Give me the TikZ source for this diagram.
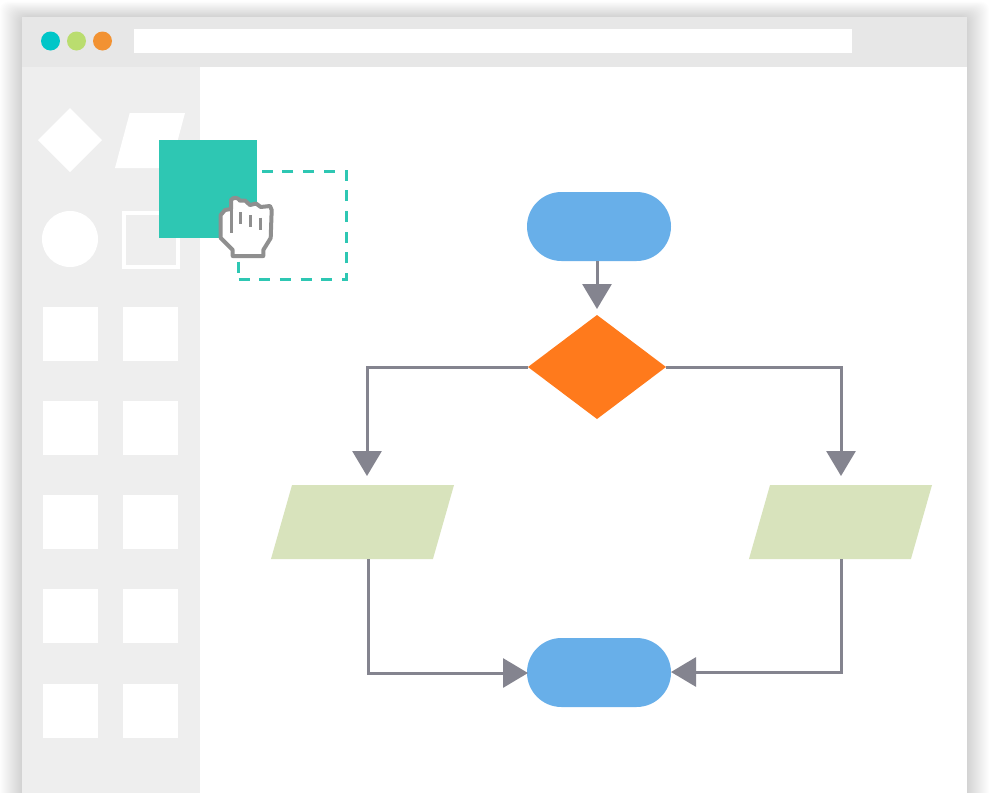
\documentclass[tikz,border=0pt]{standalone}
\usepackage{tikz}
\usetikzlibrary{arrows.meta,shapes.geometric}
\pgfdeclarelayer{bg}
\pgfsetlayers{bg,main}
\definecolor{barcol}{HTML}{E7E7E7}
\definecolor{sidecol}{HTML}{EEEEEE}
\definecolor{tealcol}{HTML}{2EC7B3}
\definecolor{bluecol}{HTML}{68AFE9}
\definecolor{orangecol}{HTML}{FF7A1C}
\definecolor{greencol}{HTML}{D8E3BC}
\definecolor{linecol}{HTML}{84848F}
\definecolor{handcol}{HTML}{8F8F8F}
\definecolor{dotcyan}{HTML}{00C6C8}
\definecolor{dotgreen}{HTML}{BADD6F}
\definecolor{dotorange}{HTML}{F29232}
\tikzset{
    every node/.style={inner sep=0mm, outer sep=0mm, draw=none}
}
\tikzset{
    pill/.style={rectangle, rounded corners=34.5pt, fill=bluecol, minimum width=144pt, minimum height=69pt},
    choice/.style={diamond, fill=orangecol, minimum width=138pt, minimum height=104pt},
    slab/.style={trapezium, trapezium left angle=81.5, trapezium right angle=98.5, trapezium stretches=true, inner sep=1pt, fill=greencol, minimum width=183pt, minimum height=74pt},
    tile/.style={rectangle, fill=white, minimum width=55pt, minimum height=54pt},
    dot/.style={circle, minimum size=19pt},
    flow/.style={draw=linecol, line width=3pt, -{Triangle[width=29pt,length=25pt]}},
    hand/.style={draw=handcol, line width=4pt, line join=round}
}
\begin{document}
\begin{tikzpicture}[x=1pt, y=-1pt]
        \useasboundingbox (0,0) rectangle (989,793);
        \begin{pgfonlayer}{bg}
                \clip (0,0) rectangle (989,793);
                \foreach \i in {1,...,22}
                        \fill [black, opacity=.007, rounded corners=8pt] (22-\i,17-.7*\i) rectangle (967+\i,820);
                \fill [white] (22,17) rectangle (967,800);
                \fill [barcol] (22,17) rectangle (967,67);
                \fill [sidecol] (22,67) rectangle (200,800);
        \end{pgfonlayer}
        % browser bar
        \node (d0) [dot, fill=dotcyan] at (50.5,41) {};
        \node (d1) [dot, fill=dotgreen] at (76.5,41) {};
        \node (d2) [dot, fill=dotorange] at (102.5,41) {};
        \node (addr) [rectangle, fill=white, minimum width=718pt, minimum height=24pt] at (493,41) {};
        % palette
        \node (p0) [diamond, fill=white, minimum size=64pt] at (70,140) {};
        \node (p1) [slab, trapezium left angle=70, trapezium right angle=110, fill=white, minimum width=70pt, minimum height=55pt] at (150,140.5) {};
        \node (p2) [circle, fill=white, minimum size=56pt] at (70,239) {};
        \node (p3) [rectangle, draw=white, line width=4pt, minimum size=54pt] at (150.5,239.5) {};
        \foreach \y [count=\n] in {334,428,522,616,711} {
                \node (a\n) [tile] at (70.5,\y) {};
                \node (b\n) [tile] at (150.5,\y) {};
        }
        % dragged shape
        \node (ghost) [rectangle, draw=tealcol, line width=3pt, dash pattern=on 11pt off 9.7pt, minimum width=108pt, minimum height=108pt] at (292.5,225.5) {};
        \node (drag) [rectangle, fill=tealcol, minimum size=98pt] at (208,189) {};
        \fill [white] (232.7,256) -- (232.7,250) -- (220.7,238) -- (220.7,215) -- (225,210) -- (231,209) -- (231,200)
                .. controls (233,197) and (238,197) .. (240,200.7) -- (245,200.5) -- (250,205) -- (256,203.5) -- (260.7,207)
                -- (270,206) -- (271.7,210) -- (270.7,238) -- (263.3,250) -- (263.3,256) -- cycle;
        \draw [hand] (232.7,256) -- (232.7,250) -- (220.7,238) -- (220.7,215) -- (225,210) -- (231,209) -- (231,200)
                .. controls (233,197) and (238,197) .. (240,200.7) -- (245,200.5) -- (250,205) -- (256,203.5) -- (260.7,207)
                -- (270,206) -- (271.7,210) -- (270.7,238) -- (263.3,250) -- (263.3,256) -- cycle;
        \draw [hand, line width=3pt] (231,209) -- (231,232.7);
        \draw [hand, line width=3.5pt] (240.7,212) -- (240.7,224);
        \draw [hand, line width=3.5pt] (250.7,215) -- (250.7,227);
        \draw [hand, line width=3.5pt] (260.3,217.5) -- (260.3,230);
        % flowchart
        \node (v0) [pill] at (599,226.5) {};
        \node (v1) [choice] at (597,367) {};
        \node (v2) [slab] at (362.5,522) {};
        \node (v3) [slab] at (840.5,522) {};
        \node (v4) [pill] at (599,672.5) {};
        \coordinate (t1) at (597,309);
        \coordinate (t2) at (367,476);
        \coordinate (t3) at (841,476);
        \coordinate (s2) at (368,559);
        \coordinate (s3) at (841,559);
        \coordinate (t4) at (528,673);
        \coordinate (t5) at (671,672);
        \draw [flow] (v0.south -| t1) -- (t1);
        \draw [flow] (v1.west) -| (t2);
        \draw [flow] (v1.east) -| (t3);
        \draw [flow] (s2) |- (t4);
        \draw [flow] (s3) |- (t5);
\end{tikzpicture}
\end{document}
